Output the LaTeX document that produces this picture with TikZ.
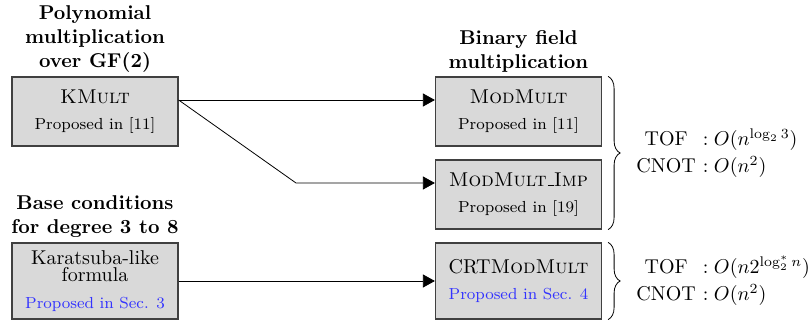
\documentclass[tikz,border=0pt]{standalone}
\usepackage{amsmath}
\usetikzlibrary{arrows.meta,decorations.pathreplacing}
\newcommand{\lowbar}{\leavevmode\kern.06em\vbox{\hrule width.3em}}
\begin{document}
\begin{tikzpicture}[x=0.5pt,y=-0.5pt,
  box/.style={rectangle,draw=black!75,fill=black!15,line width=0.6pt,minimum width=83pt,align=center,inner sep=0pt},
  head/.style={anchor=south,align=center,font=\bfseries,inner sep=2pt},
  link/.style={-{Triangle[length=6pt,width=6.5pt]},black},
  cost/.style={anchor=west,inner sep=0pt},
  curly/.style={decorate,decoration={brace,amplitude=6pt}}]
\useasboundingbox (0,0) rectangle (808,320);
\node[box,minimum height=34.5pt] (kmult) at (95,111.5) {\textsc{KMult}\\[1.2pt]{\footnotesize Proposed in [11]}};
\node[box,minimum height=34.5pt] (modmult) at (518.5,111.5) {\textsc{ModMult}\\[1.2pt]{\footnotesize Proposed in [11]}};
\node[box,minimum height=34.5pt] (modimp) at (518.5,194.5) {\textsc{ModMult\lowbar Imp}\\[1.2pt]{\footnotesize Proposed in [19]}};
\node[box,minimum height=38pt] (kara) at (95,281) {Karatsuba-like\\[-3.5pt]formula\\[1.2pt]{\footnotesize\color{blue!80}Proposed in Sec. 3}};
\node[box,minimum height=38pt] (crtmod) at (518.5,281) {CRT\textsc{ModMult}\\[1.2pt]{\footnotesize\color{blue!80}Proposed in Sec. 4}};
\node[head] (kmulthead) at (kmult.north) {Polynomial\\multiplication\\over GF(2)};
\node[head] (modhead) at (modmult.north) {Binary field\\multiplication};
\node[head] (karahead) at (kara.north) {Base conditions\\for degree 3 to 8};
\coordinate (kink) at (296,183);
\draw[link] ([yshift=5.75pt]kmult.east) -- ([yshift=5.75pt]modmult.west);
\draw[link] ([yshift=5.75pt]kmult.east) -- (kink) -- ([yshift=5.75pt]modimp.west);
\draw[link] (kara.east) -- (crtmod.west);
\draw[curly] ([xshift=3pt]modmult.north east) -- ([xshift=3pt]modimp.south east);
\draw[curly] ([xshift=3pt]crtmod.north east) -- ([xshift=3pt]crtmod.south east);
\node[cost] (topcost) at (636,154) {\begin{tabular}{@{}c@{\hspace{3.5pt}}l@{}}TOF & $: O(n^{\log_2 3})$\\[1.5pt] CNOT & $: O(n^2)$\end{tabular}};
\node[cost] (crtcost) at (636,282) {\begin{tabular}{@{}c@{\hspace{3.5pt}}l@{}}TOF & $: O(n2^{\log_2^* n})$\\[1.5pt] CNOT & $: O(n^2)$\end{tabular}};
\end{tikzpicture}
\end{document}
